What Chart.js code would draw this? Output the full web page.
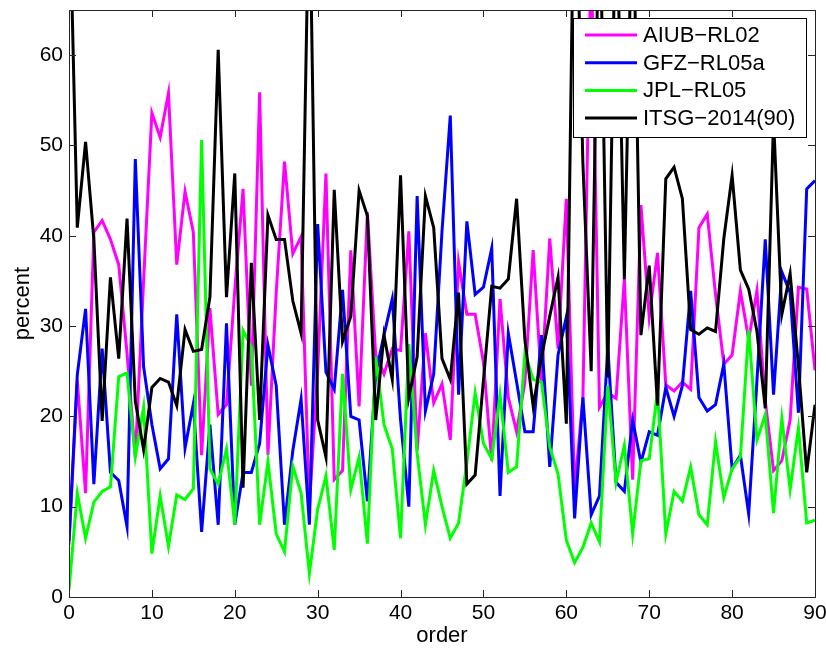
<!DOCTYPE html>
<html>
<head>
<meta charset="utf-8">
<script src="https://cdn.jsdelivr.net/npm/chart.js@4.4.1/dist/chart.umd.min.js"></script>
<style>
  html, body { margin: 0; padding: 0; background: #fff; }
  #wrap { width: 826px; height: 652px; }
</style>
</head>
<body>
<div id="wrap"><canvas id="orderChart" width="826" height="652"></canvas></div>
<script>
  // order 0..90
  var orders = Array.from({ length: 91 }, function (_, i) { return i; });

  var seriesNames = ["AIUB\u2212RL02", "GFZ\u2212RL05a", "JPL\u2212RL05", "ITSG\u22122014(90)"];
  var seriesColors = ["#ff00ff", "#0000ff", "#00ff00", "#000000"];

  var aiub = [
    5.8, 24, 11.5, 40.4, 41.7, 39.6, 36.8, 27, 15.5, 35,
    53.6, 50.9, 55.8, 36.8, 44.9, 40.4, 15.7, 32, 20.2, 21.3,
    34, 45.2, 23.4, 55.9, 15.7, 33.7, 48.2, 38, 39.9, 10,
    25, 46.9, 13, 14, 38.4, 21.1, 42.6, 26.8, 24.7, 27.5,
    27.3, 40.5, 16.2, 29.2, 21.5, 23.6, 17.4, 37.1, 31.3, 31.3,
    26, 15.1, 33, 22.1, 18.3, 23.8, 38.4, 23.8, 39.7, 27.5,
    44.1, 12, 22, 72, 21, 22.6, 22, 35.2, 13, 43.4,
    31, 38.1, 23.5, 22.8, 23.8, 23, 40.9, 42.4, 33.5, 25.8,
    26.8, 33.9, 28.5, 33.9, 21.7, 14, 15.1, 19.6, 34.3, 34.1,
    25.1
  ];

  var gfz = [
    6.2, 24.6, 31.9, 12.5, 27.5, 13.8, 12.9, 7.8, 48.5, 25.5,
    19.1, 14.2, 15.3, 31.3, 16.5, 21.4, 7.2, 19.1, 8, 30.3,
    8, 13.8, 13.8, 17, 27.9, 23.4, 8, 16.2, 21.9, 8,
    41.3, 24.9, 23, 34, 20, 19.6, 10.6, 24.7, 29, 33,
    19.6, 10, 44.4, 20.6, 24.7, 40.5, 53.3, 22.4, 41.6, 33.5,
    34.3, 38.6, 11.2, 29.2, 23.8, 18.3, 18.3, 29, 14.4, 26.8,
    31, 8.7, 22.1, 9.1, 11.2, 27.7, 12.7, 11.7, 19.6, 14.9,
    18.3, 17.9, 23.2, 20, 23.4, 33.9, 22.1, 20.6, 21.3, 25.8,
    14.2, 15.7, 9.2, 24, 39.6, 22.4, 36, 33.7, 20.4, 45.2,
    46.1
  ];

  var jpl = [
    0.8, 11.5, 6.5, 10.5, 11.7, 12.2, 24.4, 24.8, 15.5, 21,
    4.8, 11.2, 5.6, 11.3, 10.8, 12, 50.6, 14.2, 12.5, 16.4,
    8, 29.5, 27.7, 8, 15, 7, 5, 14.5, 11.5, 2.6,
    9.7, 13.4, 5.2, 24.7, 11.9, 15.5, 5.9, 26.6, 19.1, 16.4,
    6.5, 28, 15.9, 8, 14, 10, 6.5, 8.2, 14.9, 22.6,
    17, 15.3, 22.4, 13.8, 14.4, 27, 24.1, 23.8, 16.6, 13.6,
    6.3, 3.8, 5.5, 8.2, 6.1, 23.4, 12.7, 16.8, 7, 15.1,
    15.3, 22.8, 7, 11.7, 10.6, 14.4, 9.1, 8, 17.2, 11,
    14.2, 15.5, 29.6, 17.4, 20.2, 9.3, 19.8, 11.9, 18.7, 8.2,
    8.5
  ];

  var itsg = [
    80, 40.9, 50.4, 39.6, 19.5, 35.4, 26.4, 41.9, 21.7, 16.3,
    23.2, 24.2, 23.8, 21.2, 29.6, 27.2, 27.4, 33.2, 60.6, 33.2,
    46.9, 12.1, 37, 19.6, 42.3, 39.6, 39.6, 32.8, 29.2, 80,
    19.6, 15.5, 45.1, 28.3, 31.1, 45, 42.2, 19.6, 29, 24.1,
    46.7, 22.1, 26.6, 44.4, 40.9, 26.4, 24.1, 33.7, 12.5, 13.5,
    24, 34.4, 34.2, 35.2, 44.1, 28.5, 21.1, 26.6, 31.1, 35.4,
    19.2, 85, 48, 25, 80, 24.3, 80, 35.2, 80, 29,
    36.7, 21.2, 46.3, 47.6, 44.1, 29.6, 29.1, 29.8, 29.4, 39.7,
    46.7, 36.2, 34.1, 29.4, 20.9, 52.9, 31.3, 35.8, 25.6, 13.8,
    21.3
  ];

  var seriesValues = [aiub, gfz, jpl, itsg];
  var xTicks = [0, 10, 20, 30, 40, 50, 60, 70, 80, 90];
  var yTicks = [0, 10, 20, 30, 40, 50, 60];

  var fontFamily = "'Liberation Sans', Arial, Helvetica, sans-serif";
  var axisColor = "#262626";

  function toPoints(values) {
    return values.map(function (v, i) {
      return { x: orders[i], y: v };
    });
  }

  function buildDatasets() {
    return seriesValues.map(function (values, k) {
      return {
        label: seriesNames[k],
        data: toPoints(values),
        borderColor: seriesColors[k],
        backgroundColor: seriesColors[k],
        borderWidth: 3,
        pointRadius: 0,
        tension: 0,
        // later series on top, like the original
        order: seriesValues.length - 1 - k,
      };
    });
  }

  // box, inward ticks on all four sides, and the legend inside the axes
  var boxPlugin = {
    id: "matlabBox",
    afterDraw: function (chart) {
      var ctx = chart.ctx;
      var a = chart.chartArea;
      var xs = chart.scales.x;
      var ys = chart.scales.y;
      var tl = 7;

      ctx.save();
      ctx.strokeStyle = axisColor;
      ctx.lineWidth = 1;
      ctx.beginPath();
      xTicks.forEach(function (t) {
        var px = Math.round(xs.getPixelForValue(t)) + 0.5;
        ctx.moveTo(px, a.bottom); ctx.lineTo(px, a.bottom - tl);
        ctx.moveTo(px, a.top); ctx.lineTo(px, a.top + tl);
      });
      yTicks.forEach(function (t) {
        var py = Math.round(ys.getPixelForValue(t)) + 0.5;
        ctx.moveTo(a.left, py); ctx.lineTo(a.left + tl, py);
        ctx.moveTo(a.right, py); ctx.lineTo(a.right - tl, py);
      });
      ctx.stroke();
      ctx.strokeRect(a.left + 0.5, a.top + 0.5, a.right - a.left, a.bottom - a.top);

      // legend
      var lx = 573, ly = 18, lw = 233, lh = 119;
      ctx.fillStyle = "#ffffff";
      ctx.fillRect(lx, ly, lw, lh);
      ctx.strokeStyle = "#000000";
      ctx.strokeRect(lx + 0.5, ly + 0.5, lw, lh);
      ctx.font = "22px " + fontFamily;
      ctx.textBaseline = "middle";
      ctx.textAlign = "left";
      seriesNames.forEach(function (name, k) {
        var rowY = 35 + k * 27.7;
        ctx.strokeStyle = seriesColors[k];
        ctx.lineWidth = 3;
        ctx.beginPath();
        ctx.moveTo(585, rowY);
        ctx.lineTo(637, rowY);
        ctx.stroke();
        ctx.fillStyle = "#000000";
        ctx.fillText(name, 643, rowY + 1);
      });
      ctx.restore();
    },
  };

  function createChart(context) {
    return new Chart(context, {
      type: "line",
      data: { datasets: buildDatasets() },
      options: {
        responsive: false,
        animation: false,
        layout: { padding: { top: 10, right: 11, left: 0, bottom: 0 } },
        plugins: {
          legend: { display: false },
          tooltip: { enabled: false },
        },
        scales: {
          x: {
            type: "linear",
            min: 0,
            max: 90,
            grid: { display: false, drawTicks: false },
            border: { display: false },
            afterFit: function (scale) {
              scale.height = 55;
              scale.paddingLeft = 0;
              scale.paddingRight = 0;
            },
            ticks: {
              stepSize: 10,
              padding: 4,
              color: "#000",
              font: { size: 21, family: fontFamily },
              maxRotation: 0,
            },
            title: {
              display: true,
              text: "order",
              color: "#000",
              font: { size: 22, family: fontFamily },
              padding: { top: 0, bottom: 3 },
            },
          },
          y: {
            type: "linear",
            min: 0,
            max: 65,
            grid: { display: false, drawTicks: false },
            border: { display: false },
            afterFit: function (scale) {
              scale.width = 69;
              scale.paddingTop = 0;
              scale.paddingBottom = 0;
            },
            ticks: {
              stepSize: 10,
              includeBounds: false,
              padding: 6,
              color: "#000",
              font: { size: 21, family: fontFamily },
            },
            title: {
              display: true,
              text: "percent",
              color: "#000",
              font: { size: 22, family: fontFamily },
              padding: { top: 10, bottom: 0 },
            },
          },
        },
      },
      plugins: [boxPlugin],
    });
  }

  var orderChart = createChart(document.getElementById("orderChart").getContext("2d"));
</script>
</body>
</html>
